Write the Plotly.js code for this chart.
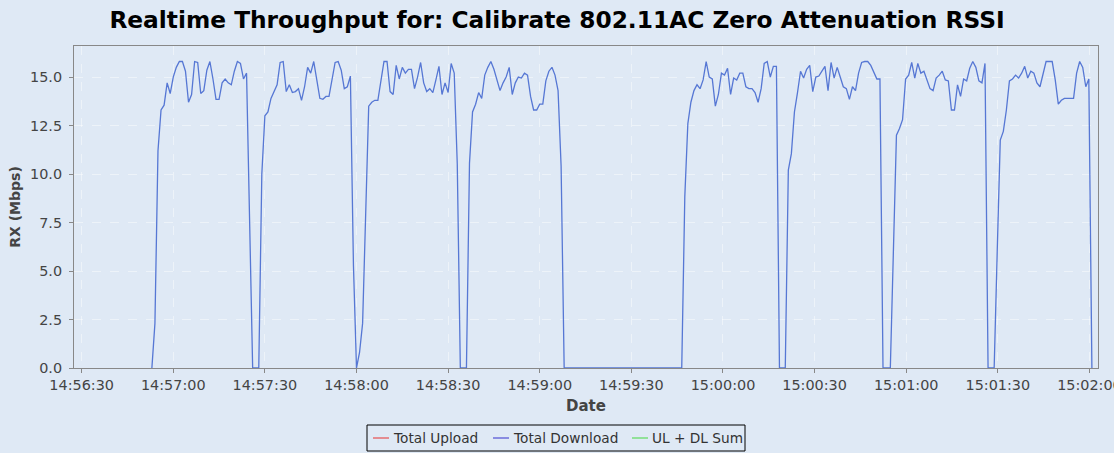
<!DOCTYPE html>
<html>
<head>
<meta charset="utf-8">
<script src="https://cdn.plot.ly/plotly-3.0.1.min.js"></script>
<style>
  html, body { margin: 0; padding: 0; background: #dfe9f5; overflow: hidden; }
  #chart { width: 1114px; height: 453px; }
</style>
</head>
<body>
<div id="chart"></div>
<script>
// ---- Data (RX Mbps, sampled once per second, one array per download burst) ----
const burstStarts = ['14:56:53', '14:57:28', '14:58:00', '14:58:36', '14:59:46.5', '15:00:20.4', '15:00:54.8', '15:01:28.8'];

const burst1 = [0, 2.3, 11.2, 13.3, 13.55, 14.7, 14.15, 15.0, 15.5, 15.8, 15.8, 15.3, 13.7, 14.1, 15.8, 15.75, 14.15, 14.3, 15.35, 15.8, 14.9, 13.85, 13.85, 14.7, 14.9, 14.7, 14.6, 15.3, 15.8, 15.7, 14.9, 15.2, 7.6, 0];
const burst2 = [0, 10.0, 13.0, 13.2, 13.9, 14.3, 14.6, 15.75, 15.8, 14.25, 14.6, 14.2, 14.25, 14.4, 13.8, 14.5, 15.5, 15.2, 15.8, 14.85, 13.9, 13.85, 14.0, 14.0, 14.85, 15.75, 15.8, 15.35, 14.4, 14.5, 15.05, 5.3, 0];
const burst3 = [0, 0.8, 2.3, 8.0, 13.5, 13.7, 13.8, 13.8, 14.7, 15.8, 15.8, 14.25, 14.1, 15.6, 14.9, 15.5, 15.2, 15.4, 15.4, 14.4, 15.0, 15.75, 14.7, 14.25, 14.4, 14.2, 14.85, 15.55, 14.1, 14.7, 14.2, 15.7, 15.2, 10.5, 0];
const burst4 = [0, 10.55, 13.2, 13.6, 14.2, 13.9, 15.1, 15.5, 15.8, 15.4, 14.8, 14.3, 14.7, 15.0, 15.5, 14.1, 14.7, 15.0, 14.95, 15.2, 15.1, 14.0, 13.3, 13.3, 13.6, 13.6, 14.8, 15.3, 15.5, 15.1, 14.3, 10.4, 0];
const burst5 = [0, 8.83, 12.6, 13.7, 14.3, 14.6, 14.4, 14.85, 15.8, 15.0, 14.9, 13.5, 14.1, 15.2, 15.1, 15.45, 14.1, 14.95, 14.85, 15.2, 15.2, 14.5, 14.4, 14.4, 14.2, 13.7, 14.4, 15.7, 15.8, 15.0, 15.55, 15.55, 0];
const burst6 = [0, 10.2, 11.05, 13.2, 14.2, 15.3, 14.95, 15.4, 15.6, 14.25, 15.0, 15.05, 15.3, 15.55, 14.3, 15.75, 14.95, 15.5, 15.0, 14.5, 14.4, 13.85, 14.5, 14.3, 15.2, 15.75, 15.8, 15.8, 15.6, 15.2, 14.9, 14.9, 0];
const burst7 = [0, 6.0, 12.0, 12.35, 12.8, 14.9, 15.1, 15.75, 14.95, 15.7, 15.2, 15.3, 14.8, 14.4, 14.3, 14.95, 15.1, 15.3, 14.85, 14.8, 13.3, 13.3, 14.6, 14.0, 14.9, 14.8, 15.45, 15.8, 15.5, 14.8, 14.7, 15.7, 0];
const burst8 = [0, 6.0, 11.75, 12.2, 13.3, 14.8, 14.9, 15.1, 14.95, 15.2, 15.55, 14.95, 15.3, 15.2, 14.7, 14.5, 15.2, 15.8, 15.8, 15.8, 14.85, 13.6, 13.8, 13.9, 13.9, 13.9, 13.9, 15.2, 15.8, 15.5, 14.5, 14.9, 0];

const bursts = [burst1, burst2, burst3, burst4, burst5, burst6, burst7, burst8];
const sampleStepMs = 1000;

const seriesNames = ['Total Upload', 'Total Download', 'UL + DL Sum'];
const seriesColors = ['#e65c5c', '#5a5ad6', '#66dd66'];
const downloadLineColor = '#5677d4';

const titleText = 'Realtime Throughput for: Calibrate 802.11AC Zero Attenuation RSSI';
const xRange = ['2024-01-01 14:56:27.5', '2024-01-01 15:02:02.8'];
const yRange = [0, 16.6];

// ---- Build the download series ----
function parseTime(hms) {
  const [h, m, s] = hms.split(':');
  return Date.UTC(2024, 0, 1, +h, +m, 0) + Math.round(parseFloat(s) * 1000);
}
const dlX = [], dlY = [];
bursts.forEach((vals, i) => {
  const t0 = parseTime(burstStarts[i]);
  vals.forEach((v, k) => { dlX.push(t0 + k * sampleStepMs); dlY.push(v); });
});

const font = 'DejaVu Sans, Verdana, sans-serif';
const W = 1114, H = 453;
const M = { l: 74, r: 16, t: 46, b: 85 };
const plotW = W - M.l - M.r, plotH = H - M.t - M.b;
const px = v => (v - M.l) / plotW;          // pixel x -> paper x
const py = v => (H - M.b - v) / plotH;      // pixel y -> paper y

// ---- Legend (JFreeChart style: boxed, centred under the plot) ----
const legendBox = { x0: 367, x1: 745, y0: 425, y1: 451 };
const legendItems = [
  { lineX0: 373, lineX1: 389, textX: 391 },
  { lineX0: 493, lineX1: 509, textX: 511 },
  { lineX0: 632, lineX1: 648, textX: 650 }
];
const legendY = 438;

const shapes = [{
  type: 'rect', xref: 'paper', yref: 'paper',
  x0: px(legendBox.x0), x1: px(legendBox.x1), y0: py(legendBox.y1), y1: py(legendBox.y0),
  line: { color: '#000', width: 1 }, fillcolor: 'rgba(0,0,0,0)', layer: 'above'
}];
const annotations = [];
legendItems.forEach((it, i) => {
  shapes.push({ type: 'line', xref: 'paper', yref: 'paper',
    x0: px(it.lineX0), x1: px(it.lineX1), y0: py(legendY), y1: py(legendY),
    line: { color: seriesColors[i], width: 1.3 } });
  annotations.push({ xref: 'paper', yref: 'paper', x: px(it.textX), y: py(legendY),
    xanchor: 'left', yanchor: 'middle', showarrow: false, text: seriesNames[i],
    font: { family: font, size: 13.7, color: '#333' } });
});

const traces = [
  { x: dlX, y: dlY, type: 'scatter', mode: 'lines', name: seriesNames[1],
    line: { color: downloadLineColor, width: 1.3 } }
];

const layout = {
  width: W, height: H,
  paper_bgcolor: '#dfe9f5',
  plot_bgcolor: '#dfe9f5',
  margin: { l: M.l, r: M.r, t: M.t, b: M.b, autoexpand: false },
  title: { text: '<b>' + titleText + '</b>', x: 0.5, xanchor: 'center', xref: 'container',
           y: 1 - 20 / H, yanchor: 'middle', yref: 'container',
           font: { family: font, size: 23.3, color: '#000' } },
  xaxis: {
    type: 'date', range: xRange, dtick: 30000, tick0: '2024-01-01 14:56:30',
    tickformat: '%H:%M:%S', ticklabeloverflow: 'allow',
    showgrid: true, gridcolor: 'rgba(255,255,255,0.45)', griddash: 'dash', gridwidth: 1,
    showline: true, linecolor: '#888', linewidth: 1, mirror: true,
    ticks: 'outside', ticklen: 4, tickcolor: '#888',
    tickfont: { family: font, size: 14.4, color: '#444' },
    title: { text: '<b>Date</b>', font: { family: font, size: 15, color: '#444' }, standoff: 8 },
    zeroline: false, automargin: false
  },
  yaxis: {
    range: yRange, dtick: 2.5, tick0: 0, tickformat: '.1f',
    showgrid: true, gridcolor: 'rgba(255,255,255,0.45)', griddash: 'dash', gridwidth: 1,
    showline: true, linecolor: '#888', linewidth: 1, mirror: true,
    ticks: 'outside', ticklen: 4, tickcolor: '#888', ticklabelstandoff: 4,
    tickfont: { family: font, size: 14.4, color: '#444' },
    title: { text: '<b>RX (Mbps)</b>', font: { family: font, size: 14, color: '#444' }, standoff: 6 },
    zeroline: false, automargin: false
  },
  showlegend: false,
  shapes: shapes,
  annotations: annotations,
  hovermode: false
};

Plotly.newPlot('chart', traces, layout, { displayModeBar: false, staticPlot: true });
</script>
</body>
</html>
